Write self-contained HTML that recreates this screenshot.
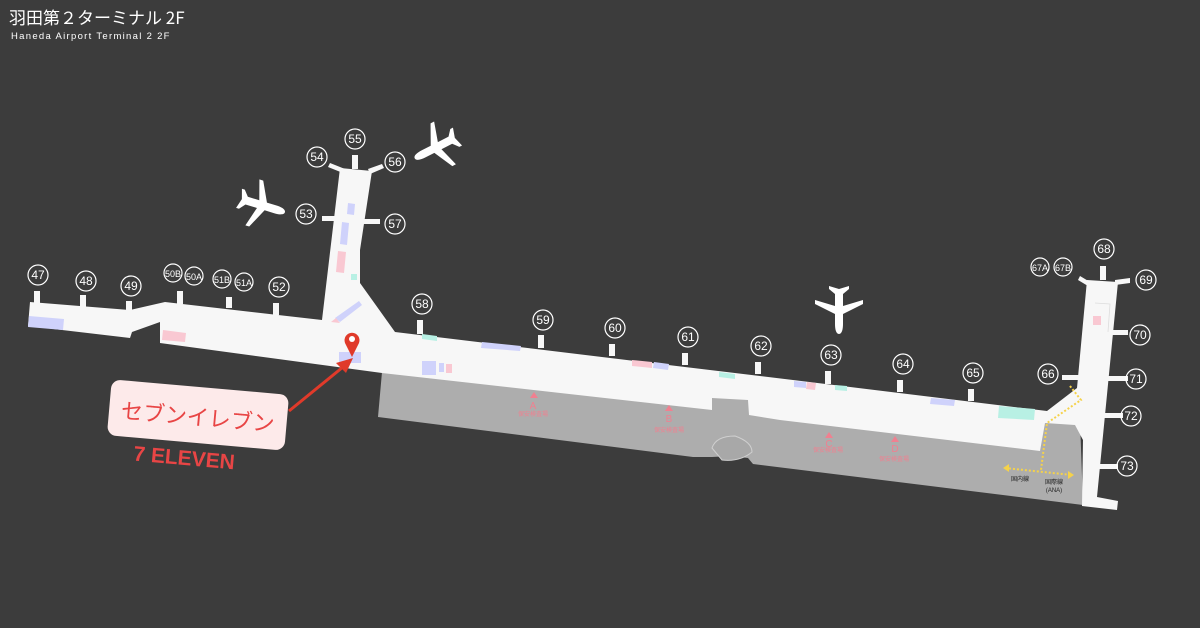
<!DOCTYPE html>
<html><head><meta charset="utf-8"><style>
html,body{margin:0;padding:0;background:#3c3c3c;}
svg{display:block}
</style></head><body>
<svg width="1200" height="628" viewBox="0 0 1200 628" xmlns="http://www.w3.org/2000/svg" font-family="Liberation Sans, 'Noto Sans CJK JP', sans-serif">
<rect width="1200" height="628" fill="#3c3c3c"/>
<text x="9" y="24" fill="#fff" font-size="17" font-family="'Noto Sans CJK JP', sans-serif">羽田第２ターミナル 2F</text>
<text x="11" y="39" fill="#fff" font-size="9.5" letter-spacing="1.3">Haneda  Airport  Terminal 2 2F</text>

<defs>
<path id="pl" d="M0,-25 C3,-25 4,-20 4,-15 L4,-5 L24,5 L24,9 L4,3 L4,15 L10,20 L10,23 L0,20 L-10,23 L-10,20 L-4,15 L-4,3 L-24,9 L-24,5 L-4,-5 L-4,-15 C-4,-20 -3,-25 0,-25Z" fill="#fff"/>
</defs>
<use href="#pl" transform="translate(261,205) rotate(107)"/>
<use href="#pl" transform="translate(437,147) rotate(243)"/>
<use href="#pl" transform="translate(839,309) rotate(180)"/>

<!-- gray area -->
<polygon points="382,372 1080,420 1083,505 753,464 748,458 730,456 712,457 693,457 378,417" fill="#adadad"/>
<path d="M712,448 Q716,436 735,436 Q752,442 752,452 Q740,462 722,460 Z" fill="#a8a8a8" stroke="#d0d0d0" stroke-width="1"/>

<!-- white concourse -->
<polygon fill="#f7f7f7" points="
30,302 130,310 165,302 322,320 340,168 372,171 360,250 360,283 395,332 793,380 1047,411 1077,388 1087,280 1118,282 1097,497 1118,501 1117,510 1082,506 1083,440 1075,425 1045,423 1040,451 780,420 749,415 748,400 712,398 712,410 382,373 160,343 160,322 132,332 130,338 28,326"/>

<!-- gate stubs -->
<g fill="#f7f7f7">
<rect x="34" y="291" width="6" height="12"/>
<rect x="80" y="295" width="6" height="12"/>
<rect x="126" y="301" width="6" height="10"/>
<rect x="177" y="291" width="6" height="13"/>
<rect x="226" y="297" width="6" height="11"/>
<rect x="273" y="303" width="6" height="12"/>
<rect x="417" y="320" width="6" height="14"/>
<rect x="538" y="335" width="6" height="13"/>
<rect x="609" y="344" width="6" height="12"/>
<rect x="682" y="353" width="6" height="12"/>
<rect x="755" y="362" width="6" height="12"/>
<rect x="825" y="371" width="6" height="13"/>
<rect x="897" y="380" width="6" height="12"/>
<rect x="968" y="389" width="6" height="12"/>
<rect x="1100" y="266" width="6" height="14"/>
<rect x="352" y="155" width="6" height="14"/>
<polygon points="330,163 345,169 343,173 328,167"/>
<polygon points="368,169 382,164 384,168 370,174"/>
<rect x="322" y="216" width="20" height="5"/>
<rect x="360" y="219" width="20" height="5"/>
<polygon points="1080,276 1090,282 1088,286 1078,280"/>
<polygon points="1115,280 1130,278 1130,283 1115,285"/>
<rect x="1062" y="375" width="22" height="5"/>
<rect x="1108" y="330" width="20" height="5"/>
<rect x="1108" y="376" width="20" height="5"/>
<rect x="1103" y="413" width="20" height="5"/>
<rect x="1098" y="464" width="20" height="5"/>
</g>

<!-- colored blocks -->
<g>
<polygon points="29,316 64,319 63,330 28,327" fill="#cfd2fb"/>
<polygon points="163,330 186,333 185,342 162,340" fill="#f9c8d2"/>
<polygon points="348,203 355,204 354,215 347,214" fill="#cfd2fb"/>
<polygon points="342,222 349,223 347,245 340,244" fill="#cfd2fb"/>
<polygon points="338,251 346,252 344,273 336,272" fill="#f9c8d2"/>
<rect x="351" y="274" width="6" height="6" fill="#b8f0e4"/>
<polygon points="335,318 359,301 362,305 340,322" fill="#cfd2fb"/>
<polygon points="331,322 336,318 340,323" fill="#f9c8d2"/>
<rect x="339" y="352" width="22" height="11" fill="#cfd2fb"/>
<polygon points="422,334 437,336 437,341 422,339" fill="#b8f0e4"/>
<polygon points="482,342 521,346 520,351 481,348" fill="#cfd2fb"/>
<rect x="422" y="361" width="14" height="14" fill="#cfd2fb"/>
<rect x="439" y="363" width="5" height="9" fill="#cfd2fb"/>
<rect x="446" y="364" width="6" height="9" fill="#f9c8d2"/>
<polygon points="632,360 652,362 652,368 632,366" fill="#f9c8d2"/>
<polygon points="654,362 669,364 668,370 653,368" fill="#cfd2fb"/>
<polygon points="719,372 735,374 735,379 719,377" fill="#b8f0e4"/>
<polygon points="794,381 806,382 806,388 794,387" fill="#cfd2fb"/>
<polygon points="807,382 816,383 815,390 806,389" fill="#f9c8d2"/>
<polygon points="835,385 847,386 847,391 835,390" fill="#b8f0e4"/>
<polygon points="931,398 955,400 954,406 930,404" fill="#cfd2fb"/>
<polygon points="999,406 1035,409 1034,420 998,418" fill="#b8f0e4"/>
<rect x="1093" y="316" width="8" height="9" fill="#f9c8d2"/>
</g>
<path d="M1095,303 L1110,304 L1108,332" fill="none" stroke="#ddd" stroke-width="0.8"/>

<!-- security -->
<g fill="#f08090" font-size="10" text-anchor="middle">
<polygon points="530,398 534,392 538,398"/><text x="533" y="409">A</text><text x="533" y="416" font-size="6" font-family="'Noto Sans CJK JP', sans-serif">保安検査場</text>
<polygon points="665,411 669,405 673,411"/><text x="669" y="422">B</text><text x="669" y="432" font-size="6" font-family="'Noto Sans CJK JP', sans-serif">保安検査場</text>
<polygon points="825,438 829,432 833,438"/><text x="829" y="447">C</text><text x="828" y="452" font-size="6" font-family="'Noto Sans CJK JP', sans-serif">保安検査場</text>
<polygon points="891,442 895,436 899,442"/><text x="895" y="452">D</text><text x="894" y="461" font-size="6" font-family="'Noto Sans CJK JP', sans-serif">保安検査場</text>
</g>

<!-- dotted path -->
<g stroke="#f5d24a" stroke-width="2" stroke-dasharray="2,2" fill="none">
<path d="M1070,386 L1081,400 L1047,423 L1041,470"/>
<path d="M1005,468 L1072,475"/>
</g>
<polygon points="1003,468 1009,464 1009,472" fill="#f5d24a"/>
<polygon points="1074,475 1068,471 1068,479" fill="#f5d24a"/>
<text x="1020" y="481" font-size="6" fill="#222" text-anchor="middle" font-family="'Noto Sans CJK JP', sans-serif">国内線</text>
<text x="1054" y="484" font-size="6" fill="#222" text-anchor="middle" font-family="'Noto Sans CJK JP', sans-serif">国際線</text>
<text x="1054" y="492" font-size="6" fill="#222" text-anchor="middle">(ANA)</text>

<!-- gate labels -->
<g fill="none" stroke="#fff" stroke-width="1.2">
<circle cx="38" cy="275" r="10"/><circle cx="86" cy="281" r="10"/><circle cx="131" cy="286" r="10"/>
<circle cx="173" cy="273" r="9"/><circle cx="194" cy="276" r="9"/><circle cx="222" cy="279" r="9"/><circle cx="244" cy="282" r="9"/>
<circle cx="279" cy="287" r="10"/><circle cx="306" cy="214" r="10"/><circle cx="317" cy="157" r="10"/><circle cx="355" cy="139" r="10"/>
<circle cx="395" cy="162" r="10"/><circle cx="395" cy="224" r="10"/><circle cx="422" cy="304" r="10"/><circle cx="543" cy="320" r="10"/>
<circle cx="615" cy="328" r="10"/><circle cx="688" cy="337" r="10"/><circle cx="761" cy="346" r="10"/><circle cx="831" cy="355" r="10"/>
<circle cx="903" cy="364" r="10"/><circle cx="973" cy="373" r="10"/><circle cx="1048" cy="374" r="10"/><circle cx="1040" cy="267" r="9"/>
<circle cx="1063" cy="267" r="9"/><circle cx="1104" cy="249" r="10"/><circle cx="1146" cy="280" r="10"/><circle cx="1140" cy="335" r="10"/>
<circle cx="1136" cy="379" r="10"/><circle cx="1131" cy="416" r="10"/><circle cx="1127" cy="466" r="10"/>
</g>
<g fill="#fff" font-size="12" text-anchor="middle">
<text x="38" y="279">47</text><text x="86" y="285">48</text><text x="131" y="290">49</text>
<text x="173" y="277" font-size="9">50B</text><text x="194" y="280" font-size="9">50A</text><text x="222" y="283" font-size="9">51B</text><text x="244" y="286" font-size="9">51A</text>
<text x="279" y="291">52</text><text x="306" y="218">53</text><text x="317" y="161">54</text><text x="355" y="143">55</text>
<text x="395" y="166">56</text><text x="395" y="228">57</text><text x="422" y="308">58</text><text x="543" y="324">59</text>
<text x="615" y="332">60</text><text x="688" y="341">61</text><text x="761" y="350">62</text><text x="831" y="359">63</text>
<text x="903" y="368">64</text><text x="973" y="377">65</text><text x="1048" y="378">66</text><text x="1040" y="271" font-size="9">67A</text>
<text x="1063" y="271" font-size="9">67B</text><text x="1104" y="253">68</text><text x="1146" y="284">69</text><text x="1140" y="339">70</text>
<text x="1136" y="383">71</text><text x="1131" y="420">72</text><text x="1127" y="470">73</text>
</g>

<!-- 7 eleven callout -->
<g transform="rotate(5 198 415)">
<rect x="109" y="387" width="178" height="56" rx="9" fill="#fdeaea"/>
<text x="198" y="425" font-size="22" fill="#e84545" text-anchor="middle" font-family="'Noto Sans CJK JP', sans-serif">セブンイレブン</text>
<text x="188" y="466" font-size="21" font-weight="bold" fill="#e84545" text-anchor="middle">7 ELEVEN</text>
</g>
<line x1="289" y1="411" x2="343" y2="367" stroke="#e03a2a" stroke-width="3"/>
<polygon points="353,358 336,363 346,373" fill="#e03a2a"/>
<path d="M352,357 L345,343 A7.5,7.5 0 1 1 359,343 Z" fill="#e03a2a"/>
<circle cx="352" cy="339" r="3" fill="#fff"/>
</svg>
</body></html>
